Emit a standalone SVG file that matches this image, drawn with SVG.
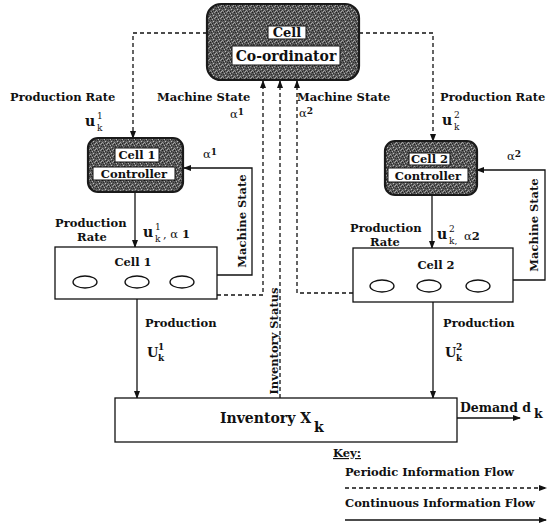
<svg xmlns="http://www.w3.org/2000/svg" width="549" height="524" viewBox="0 0 549 524">
<style>
.t{font-family:"DejaVu Serif","Liberation Serif",serif;font-weight:bold;font-size:11.5px;fill:#111}
.n{font-weight:normal}
.s{font-size:9px}
.ln{stroke:#111;stroke-width:1.3;fill:none}
.d{stroke:#111;stroke-width:1.3;fill:none;stroke-dasharray:4 3}
.box{fill:#fff;stroke:#111;stroke-width:1.3}
.lab{fill:#fff;stroke:#111;stroke-width:1}
.dark{fill:url(#stip);stroke:#1a1a1a;stroke-width:2.2}
</style>
<defs>
<pattern id="stip" width="6" height="6" patternUnits="userSpaceOnUse">
<rect width="6" height="6" fill="#5a5a5a"/>
<rect x="0" y="0" width="1" height="1" fill="#1e1e1e"/>
<rect x="2" y="1" width="1" height="1" fill="#b0b0b0"/>
<rect x="4" y="0" width="1" height="1" fill="#999"/>
<rect x="1" y="2" width="1" height="1" fill="#2a2a2a"/>
<rect x="3" y="3" width="1" height="1" fill="#c0c0c0"/>
<rect x="5" y="2" width="1" height="1" fill="#333"/>
<rect x="0" y="4" width="1" height="1" fill="#a0a0a0"/>
<rect x="2" y="5" width="1" height="1" fill="#222"/>
<rect x="4" y="4" width="1" height="1" fill="#2b2b2b"/>
<rect x="5" y="5" width="1" height="1" fill="#aaa"/>
<rect x="1" y="5" width="1" height="1" fill="#888"/>
<rect x="3" y="1" width="1" height="1" fill="#303030"/>
</pattern>
<marker id="ah" markerWidth="8" markerHeight="6" refX="7" refY="3" orient="auto" markerUnits="userSpaceOnUse">
<path d="M0,0 L8,3 L0,6 z" fill="#111"/>
</marker>
</defs>

<g id="connectors">
<path class="d" d="M207,33 H133 V138" marker-end="url(#ah)"/>
<path class="d" d="M359,33 H433 V141" marker-end="url(#ah)"/>
<path class="d" d="M217,295 H263 V81" marker-end="url(#ah)"/>
<path class="d" d="M280,398 V81" marker-end="url(#ah)"/>
<path class="d" d="M353,293 H297 V81" marker-end="url(#ah)"/>
<path class="ln" d="M135,192 V247" marker-end="url(#ah)"/>
<path class="ln" d="M432,195 V248" marker-end="url(#ah)"/>
<path class="ln" d="M217,275 H252 V168 H184" marker-end="url(#ah)"/>
<path class="ln" d="M513,280 H545 V170 H477" marker-end="url(#ah)"/>
<path class="ln" d="M137,299 V398" marker-end="url(#ah)"/>
<path class="ln" d="M433,302 V398" marker-end="url(#ah)"/>
<path class="ln" d="M457,418 H520" marker-end="url(#ah)"/>
</g>

<g id="coordinator">
<rect class="dark" x="207" y="4" width="152" height="76" rx="14"/>
<rect class="lab" x="268" y="26" width="38" height="13"/>
<text class="t" x="287" y="37" text-anchor="middle" style="font-size:13px">Cell</text>
<rect class="lab" x="232" y="46" width="108" height="19"/>
<text class="t" x="286" y="60.5" text-anchor="middle" style="font-size:14px">Co-ordinator</text>
</g>

<g id="controller1">
<rect class="dark" x="88" y="138" width="95" height="54" rx="10"/>
<rect class="lab" x="115" y="148" width="44" height="14"/>
<text class="t" x="137" y="159" text-anchor="middle">Cell 1</text>
<rect class="lab" x="93" y="167" width="82" height="13"/>
<text class="t" x="134" y="178" text-anchor="middle">Controller</text>
</g>

<g id="controller2">
<rect class="dark" x="385" y="141" width="92" height="54" rx="10"/>
<rect class="lab" x="409" y="153" width="41" height="12"/>
<text class="t" x="429.5" y="163" text-anchor="middle">Cell 2</text>
<rect class="lab" x="388" y="168" width="80" height="14"/>
<text class="t" x="428" y="179.5" text-anchor="middle">Controller</text>
</g>

<g id="cell1">
<rect class="box" x="55" y="247" width="162" height="52"/>
<text class="t" x="133" y="266" text-anchor="middle">Cell 1</text>
<ellipse class="ln" cx="85" cy="282" rx="12" ry="6"/>
<ellipse class="ln" cx="137" cy="282" rx="12" ry="6"/>
<ellipse class="ln" cx="182" cy="282" rx="12" ry="6"/>
</g>

<g id="cell2">
<rect class="box" x="353" y="248" width="160" height="54"/>
<text class="t" x="436" y="269" text-anchor="middle">Cell 2</text>
<ellipse class="ln" cx="382" cy="286" rx="12" ry="6"/>
<ellipse class="ln" cx="429" cy="286" rx="12" ry="6"/>
<ellipse class="ln" cx="478" cy="286" rx="12" ry="6"/>
</g>

<g id="inventory">
<rect class="box" x="115" y="398" width="342" height="44"/>
<text class="t" x="220" y="423" style="font-size:14px">Inventory X</text>
<text class="t" x="314" y="432" style="font-size:14px">k</text>
</g>

<g id="labels">
<text class="t" x="10" y="101">Production Rate</text>
<text class="t" x="85" y="126" style="font-size:14px">u</text>
<text class="t s n" x="97" y="119">1</text>
<text class="t s n" x="97" y="131">k</text>
<text class="t" x="157" y="101">Machine State</text>
<text class="t" x="230" y="118"><tspan class="n">α</tspan><tspan dy="-3" class="s">1</tspan></text>
<text class="t" x="203" y="158"><tspan class="n">α</tspan><tspan dy="-3" class="s">1</tspan></text>

<text class="t" x="297" y="101">Machine State</text>
<text class="t" x="299" y="117"><tspan class="n">α</tspan><tspan dy="-3" class="s">2</tspan></text>
<text class="t" x="440" y="101">Production Rate</text>
<text class="t" x="442" y="125" style="font-size:14px">u</text>
<text class="t s n" x="454" y="118">2</text>
<text class="t s n" x="454" y="130">k</text>
<text class="t" x="507" y="160"><tspan class="n">α</tspan><tspan dy="-3" class="s">2</tspan></text>

<text class="t" x="55" y="227">Production</text>
<text class="t" x="77" y="241">Rate</text>
<text class="t" x="143" y="237" style="font-size:14px">u</text>
<text class="t s n" x="155" y="230">1</text>
<text class="t s n" x="155" y="242">k</text>
<text class="t" x="163" y="238"><tspan class="n">, α</tspan> 1</text>

<text class="t" x="350" y="232">Production</text>
<text class="t" x="370" y="246">Rate</text>
<text class="t" x="437" y="239" style="font-size:14px">u</text>
<text class="t s n" x="449" y="232">2</text>
<text class="t s n" x="449" y="244">k,</text>
<text class="t" x="464" y="240"><tspan class="n">α</tspan>2</text>

<text class="t" transform="translate(246,221) rotate(-90)" text-anchor="middle">Machine State</text>
<text class="t" transform="translate(538,225) rotate(-90)" text-anchor="middle">Machine State</text>
<text class="t" transform="translate(278,341) rotate(-90)" text-anchor="middle">Inventory Status</text>

<text class="t" x="145" y="327">Production</text>
<text class="t" x="147" y="357" style="font-size:13px">U</text>
<text class="t s" x="158" y="350">1</text>
<text class="t s" x="158" y="361">k</text>
<text class="t" x="443" y="327">Production</text>
<text class="t" x="445" y="357" style="font-size:13px">U</text>
<text class="t s" x="456" y="350">2</text>
<text class="t s" x="456" y="361">k</text>

<text class="t" x="460" y="412" style="font-size:12.5px">Demand d</text>
<text class="t" x="534" y="418" style="font-size:12.5px">k</text>
</g>

<g id="key">
<text class="t" x="333" y="457" text-decoration="underline">Key:</text>
<text class="t" x="345" y="476">Periodic Information Flow</text>
<path class="d" d="M345,488 H546" marker-end="url(#ah)"/>
<text class="t" x="345" y="507">Continuous Information Flow</text>
<path class="ln" d="M345,520 H546" marker-end="url(#ah)"/>
</g>
</svg>
